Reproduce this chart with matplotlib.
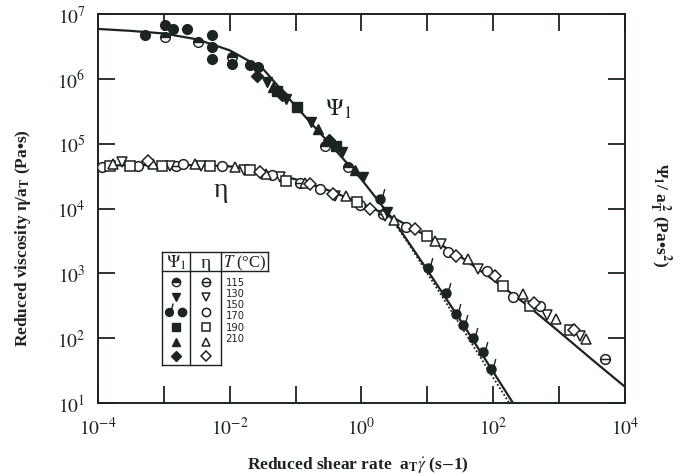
import numpy as np
import matplotlib.pyplot as plt
from matplotlib.path import Path
from matplotlib.ticker import NullLocator

plt.rcParams['font.family'] = ['Liberation Serif', 'DejaVu Serif']
plt.rcParams['mathtext.fontset'] = 'stix'

ink = '#1b241e'

# --- fitted curves (log10 of shear rate, log10 of value) ---
psi_fit_lx = [-4.0, -3.5, -3.0, -2.5, -2.0, -1.5, -1.0, -0.5, 0.0, 0.5, 1.0, 1.5, 2.0, 2.3, 2.5]
psi_fit_ly = [6.77, 6.74, 6.70, 6.61, 6.44, 6.16, 5.58, 5.02, 4.45, 3.80, 3.05, 2.28, 1.48, 1.00, 0.70]
psi_dot_lx = [0.4, 0.7, 1.0, 1.3, 1.6, 1.9, 2.2, 2.4]
psi_dot_ly = [3.92, 3.48, 3.00, 2.52, 2.04, 1.55, 1.07, 0.75]
eta_fit_lx = [-4.0, -3.5, -3.0, -2.5, -2.0, -1.5, -1.0, -0.5, 0.0, 0.5, 1.0, 1.5, 2.0, 2.5, 3.0, 3.5, 4.0]
eta_fit_ly = [4.66, 4.67, 4.67, 4.67, 4.65, 4.58, 4.45, 4.28, 4.08, 3.85, 3.57, 3.26, 2.90, 2.52, 2.10, 1.67, 1.25]

# --- viscosity data, open symbols (log10 x, log10 y) ---
eta_115_lx = [-2.81, -0.93, 0.33, 3.69]
eta_115_ly = [4.66, 4.40, 3.92, 1.68]
eta_130_lx = [-3.64, -2.91, -2.43, -1.79, -1.24, -0.40, 0.36, 1.21, 1.77, 2.81, 3.31]
eta_130_ly = [4.71, 4.66, 4.66, 4.60, 4.48, 4.20, 3.89, 3.45, 3.07, 2.35, 2.04]
eta_150_lx = [-3.94, -3.39, -2.71, -2.12, -1.36, -0.63, -0.02, 0.68, 1.31, 1.90, 2.30, 2.71]
eta_150_ly = [4.64, 4.66, 4.69, 4.66, 4.51, 4.30, 4.05, 3.71, 3.33, 3.04, 2.63, 2.50]
eta_170_lx = [-3.82, -3.51, -3.03, -2.30, -1.69, -1.14, -0.07, 0.99, 2.15, 2.56, 3.16]
eta_170_ly = [4.66, 4.66, 4.66, 4.66, 4.59, 4.43, 4.10, 3.58, 2.81, 2.50, 2.12]
eta_190_lx = [-3.77, -3.16, -2.53, -1.92, -1.45, -0.85, -0.23, 0.50, 1.11, 1.62, 2.45, 2.96, 3.41]
eta_190_ly = [4.69, 4.69, 4.69, 4.64, 4.53, 4.40, 4.20, 3.82, 3.50, 3.22, 2.68, 2.30, 1.99]
eta_210_lx = [-3.24, -1.54, -0.78, -0.43, 0.13, 0.81, 1.44, 2.02, 2.62, 3.22]
eta_210_ly = [4.74, 4.56, 4.38, 4.22, 3.99, 3.69, 3.27, 2.96, 2.55, 2.12]

# --- first normal stress coefficient, filled symbols ---
psi_115_lx = [-2.98, -2.48, -1.97, -0.56, -0.20]
psi_115_ly = [6.64, 6.57, 6.33, 4.97, 4.64]
psi_130_lx = [-1.44, -1.14, -0.76, -0.30, 0.03, 0.38]
psi_130_ly = [5.95, 5.69, 5.33, 4.87, 4.48, 3.94]
psi_150_lx = [-3.29, -2.98, -2.86, -2.65, -2.27, -2.27, -2.27, -1.97, -1.69, -1.57]
psi_150_ly = [6.67, 6.83, 6.77, 6.77, 6.67, 6.49, 6.31, 6.23, 6.21, 6.18]
psi_150s_lx = [0.28, 1.01, 1.29, 1.44, 1.54, 1.70, 1.85, 1.97]
psi_150s_ly = [4.15, 3.09, 2.69, 2.37, 2.20, 2.00, 1.78, 1.52]
psi_170_lx = [-1.29, -0.98, -0.38]
psi_170_ly = [5.82, 5.56, 4.97]
psi_190_lx = [-1.34, -0.66, -0.10]
psi_190_ly = [5.87, 5.23, 4.60]
psi_210_lx = [-1.59, -1.20, -0.50]
psi_210_ly = [6.05, 5.75, 5.05]

temps = ['115', '130', '150', '170', '190', '210']


def pw(a):
    return 10.0 ** np.asarray(a)


# circle with a bar through it
theta_mark = Path.make_compound_path(Path.unit_circle(), Path([(-1.0, 0.0), (1.0, 0.0)]))
# filled circle with a short stem
stem_mark = Path.make_compound_path(Path.unit_circle(), Path([(0.55, 0.85), (0.95, 2.3)]))

open_kw = dict(linestyle='none', mfc='white', mec=ink, mew=1.1, ms=7)
fill_kw = dict(linestyle='none', mfc=ink, mec=ink, mew=1.0, ms=7)

eta_style = {
    '115': dict(marker=theta_mark, **open_kw),
    '130': dict(marker='v', **open_kw),
    '150': dict(marker='o', **open_kw),
    '170': dict(marker='s', **open_kw),
    '190': dict(marker='^', **open_kw),
    '210': dict(marker='D', **{**open_kw, 'ms': 6.5}),
}
psi_style = {
    '115': dict(marker='o', fillstyle='top', mfcalt='white', **fill_kw),
    '130': dict(marker='v', **fill_kw),
    '150': dict(marker='o', **fill_kw),
    '150s': dict(marker=stem_mark, **{**fill_kw, 'ms': 15}),
    '170': dict(marker='s', **fill_kw),
    '190': dict(marker='^', **fill_kw),
    '210': dict(marker='D', **{**fill_kw, 'ms': 6.5}),
}

fig = plt.figure(figsize=(6.89, 4.77), dpi=100)
ax = fig.add_axes([0.1422, 0.153, 0.7649, 0.8155])
ax.set_xscale('log')
ax.set_yscale('log')

# fit lines
ax.plot(pw(eta_fit_lx), pw(eta_fit_ly), color=ink, lw=1.6, zorder=2)
ax.plot(pw(psi_fit_lx), pw(psi_fit_ly), color=ink, lw=1.6, zorder=2)
ax.plot(pw(psi_dot_lx), pw(psi_dot_ly), color=ink, lw=1.3, ls=(0, (1, 1.2)), zorder=2)

eta_sets = [(eta_115_lx, eta_115_ly), (eta_130_lx, eta_130_ly), (eta_150_lx, eta_150_ly),
            (eta_170_lx, eta_170_ly), (eta_190_lx, eta_190_ly), (eta_210_lx, eta_210_ly)]
for t, (lx, ly) in zip(temps, eta_sets):
    ax.plot(pw(lx), pw(ly), zorder=3, **eta_style[t])

psi_sets = {'115': (psi_115_lx, psi_115_ly), '130': (psi_130_lx, psi_130_ly),
            '150': (psi_150_lx, psi_150_ly), '150s': (psi_150s_lx, psi_150s_ly),
            '170': (psi_170_lx, psi_170_ly), '190': (psi_190_lx, psi_190_ly),
            '210': (psi_210_lx, psi_210_ly)}
for key, (lx, ly) in psi_sets.items():
    ax.plot(pw(lx), pw(ly), zorder=4, **psi_style[key])

ax.set_xlim(1e-4, 1e4)
ax.set_ylim(1e1, 1e7)
ax.set_xticks(10.0 ** np.arange(-4, 5))
ax.set_xticklabels(['$10^{-4}$', '', '$10^{-2}$', '', '$10^{0}$', '', '$10^{2}$', '', '$10^{4}$'])
ax.set_yticks(10.0 ** np.arange(1, 8))
ax.set_yticklabels(['$10^{%d}$' % k for k in range(1, 8)])
ax.xaxis.set_minor_locator(NullLocator())
ax.yaxis.set_minor_locator(NullLocator())
ax.tick_params(direction='in', length=12, width=1.3, top=True, right=True,
               labelsize=14, pad=9, colors=ink)
for s in ax.spines.values():
    s.set_linewidth(1.4)
    s.set_color(ink)

# curve labels
ax.text(10 ** -0.55, 10 ** 5.45, r'$\Psi_1$', fontsize=17, color=ink)
ax.text(10 ** -2.25, 10 ** 4.2, 'η', fontsize=20, color=ink)

# axis titles
fig.text(0.033, 0.50, 'Reduced viscosity η/a$_{\\mathbf{T}}$ (Pa•s)', rotation=90,
         ha='center', va='center', fontsize=12.5, fontweight='bold', color=ink)
fig.text(0.52, 0.025, 'Reduced shear rate  a$_{\\mathbf{T}}$$\\dot{\\gamma}$ (s$-$1)',
         ha='center', va='center', fontsize=12.5, fontweight='bold', color=ink)
fig.text(0.957, 0.55, 'Ψ$_{\\mathbf{1}}$/ a$_{\\mathbf{T}}^{\\,\\mathbf{2}}$ (Pa•s$^{\\mathbf{2}}$)',
         rotation=270, ha='center', va='center', fontsize=12.5, fontweight='bold', color=ink)

# symbol key table (axes fraction coordinates)
tr = ax.transAxes
x0, x1, x2, x3 = 0.1215, 0.1746, 0.2343, 0.3226
ytop, yhead, ybot = 0.388, 0.339, 0.0977
line_kw = dict(color=ink, lw=1.0, transform=tr, clip_on=False)
ax.plot([x0, x3], [ytop, ytop], **line_kw)
ax.plot([x0, x3], [yhead, yhead], **line_kw)
ax.plot([x0, x2], [ybot, ybot], **line_kw)
ax.plot([x0, x0], [ytop, ybot], **line_kw)
ax.plot([x1, x1], [ytop, ybot], **line_kw)
ax.plot([x2, x2], [ytop, ybot], **line_kw)
ax.plot([x3, x3], [ytop, yhead], **line_kw)
ax.text((x0 + x1) / 2, 0.362, r'$\Psi_1$', transform=tr, ha='center', va='center',
        fontsize=13, color=ink)
ax.text((x1 + x2) / 2, 0.362, 'η', transform=tr, ha='center', va='center',
        fontsize=14, color=ink)
ax.text((x2 + x3) / 2, 0.362, r'$T$ (°C)', transform=tr, ha='center', va='center',
        fontsize=12, color=ink)

row_y = [0.310 - i * 0.038 for i in range(6)]
for i, t in enumerate(temps):
    e_kw = {**eta_style[t], 'ms': eta_style[t]['ms'] * 0.85}
    ax.plot([(x1 + x2) / 2], [row_y[i]], transform=tr, clip_on=False, **e_kw)
    if t == '150':
        s_kw = {**psi_style['150s'], 'ms': 13}
        ax.plot([(x0 + x1) / 2 - 0.013], [row_y[i]], transform=tr, clip_on=False, **s_kw)
        ax.plot([(x0 + x1) / 2 + 0.011], [row_y[i]], transform=tr, clip_on=False,
                **{**psi_style['150'], 'ms': 6})
    else:
        p_kw = {**psi_style[t], 'ms': psi_style[t]['ms'] * 0.85}
        ax.plot([(x0 + x1) / 2], [row_y[i]], transform=tr, clip_on=False, **p_kw)
    ax.text(x2 + 0.008, 0.312 - i * 0.029, t, transform=tr, ha='left', va='center',
            fontsize=7.2, family='DejaVu Sans', color=ink)

fig.savefig('out.png', dpi=100, facecolor='white')
